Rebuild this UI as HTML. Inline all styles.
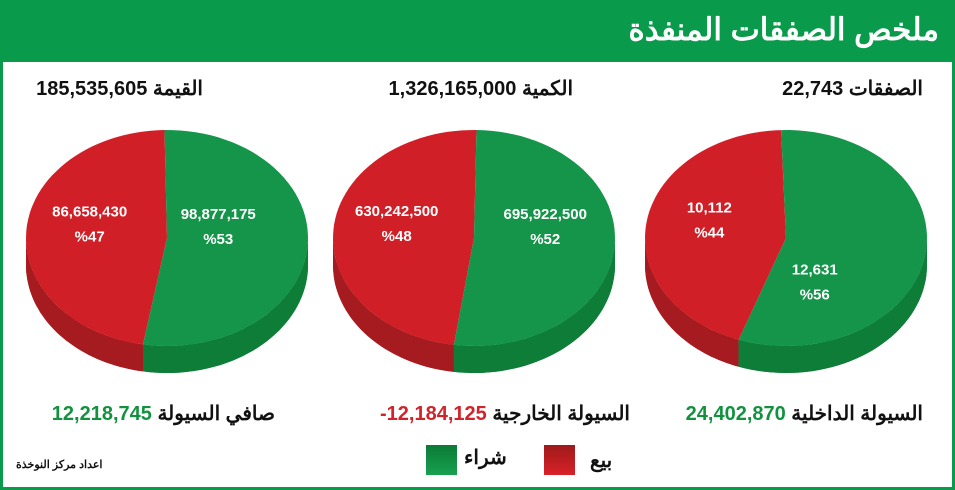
<!DOCTYPE html>
<html><head><meta charset="utf-8">
<style>
body{margin:0;width:955px;height:490px;overflow:hidden;background:#fff;font-family:"Liberation Sans","Noto Sans CJK SC",sans-serif;}
#frame{position:absolute;left:0;top:0;width:949px;height:484px;border:3px solid #0a9a4c;}
#header{position:absolute;left:3px;top:3px;width:949px;height:59px;background:#0a9a4c;}
.t{position:absolute;font-weight:bold;white-space:nowrap;direction:rtl;}
.g{color:#12923f}.r{color:#d2232a}
</style></head><body>
<div id="frame"></div>
<div id="header"></div>
<div class="t" style="right:16px;top:12px;font-size:31px;color:#fff;">ملخص الصفقات المنفذة</div>
<div class="t" style="right:32px;top:76px;font-size:20px;color:#111;">الصفقات <span dir="ltr">22,743</span></div>
<div class="t" style="right:382px;top:76px;font-size:20px;color:#111;">الكمية <span dir="ltr">1,326,165,000</span></div>
<div class="t" style="right:752px;top:76px;font-size:20px;color:#111;">القيمة <span dir="ltr">185,535,605</span></div>
<svg id="pies" width="955" height="490" style="position:absolute;left:0;top:0"></svg>
<div class="t" style="right:32px;top:401px;font-size:20px;color:#111;">السيولة الداخلية <span class="g" dir="ltr">24,402,870</span></div>
<div class="t" style="right:325px;top:401px;font-size:20px;color:#111;">السيولة الخارجية <span class="r" dir="ltr">12,184,125</span><span class="r">-</span></div>
<div class="t" style="right:680px;top:401px;font-size:20px;color:#111;">صافي السيولة <span class="g" dir="ltr">12,218,745</span></div>
<div class="t" style="left:590px;top:448px;font-size:20px;color:#111;">بيع</div>
<div style="position:absolute;left:544px;top:445px;width:31px;height:30px;background:linear-gradient(#9e1a1a,#d92128);"></div>
<div class="t" style="left:464px;top:445px;font-size:20px;color:#111;">شراء</div>
<div style="position:absolute;left:426px;top:445px;width:31px;height:30px;background:linear-gradient(#0b7a35,#17a150);"></div>
<div class="t" style="left:16px;top:458px;font-size:11px;color:#111;">اعداد مركز النوخذة</div>
<script>
const pieCenters=[786,474,167];
const sellValues=["10,112","630,242,500","86,658,430"];
const buyValues=["12,631","695,922,500","98,877,175"];
const sellShares=[44,48,47];
const buyShares=[56,52,53];
const startAngles=[-92,-89,-91];
const buyLabelShiftX=[-27,15,-5];
const buyLabelShiftY=[55,0,0];
const svg=document.getElementById('pies');
const NS='http://www.w3.org/2000/svg';
const cy=238,rx=141,ry=108,depth=27;
function pt(cx,a,dy){const r=a*Math.PI/180;return [(cx+rx*Math.cos(r)).toFixed(1),(cy+dy+ry*Math.sin(r)).toFixed(1)];}
function add(tag,attrs){const e=document.createElementNS(NS,tag);for(const k in attrs)e.setAttribute(k,attrs[k]);svg.appendChild(e);return e;}
function norm(a){a%=360;if(a<0)a+=360;return a;}
function sideSeg(cx,a1,a2,color,name){
 for(let base=-360;base<=360;base+=360){
  const s=Math.max(a1,base),e=Math.min(a2,base+180);
  if(e<=s)continue;
  let top=[],bot=[];
  for(let a=s;a<=e+0.001;a+=(e-s)/40){top.push(pt(cx,a,0).join(','));bot.unshift(pt(cx,a,depth).join(','));}
  const p=add('polygon',{points:top.concat(bot).join(' '),fill:color});
  
  
 }
}
function wedge(cx,a1,a2,color,name){
 let d='M'+cx+','+cy+' L'+pt(cx,a1,0).join(',');
 for(let a=a1;a<=a2+0.001;a+=(a2-a1)/60)d+=' L'+pt(cx,a,0).join(',');
 d+=' Z';
 const p=add('path',{d:d,fill:color});
 
 
}
function label(x,y,txt,name){
 const t=add('text',{x:x,y:y,'text-anchor':'middle','font-size':'15','font-weight':'bold',fill:'#fff','font-family':'Liberation Sans, sans-serif'});
 t.textContent=txt;
 
 
}
for(let i=0;i<pieCenters.length;i++){
 const cx=pieCenters[i];
 const tot=sellShares[i]+buyShares[i];
 const s0=startAngles[i];
 const sellEnd=s0; const sellStart=s0-sellShares[i]/tot*360;
 const buyStart=s0; const buyEnd=sellStart+360;
 const rs=norm(sellStart), re=rs+sellShares[i]/tot*360;
 sideSeg(cx,rs,re,'#a51b1f','pie'+i+'-sell-side');
 sideSeg(cx,rs-360,re-360,'#a51b1f','pie'+i+'-sell-side');
 const gs=norm(buyStart), ge=gs+buyShares[i]/tot*360;
 sideSeg(cx,gs,ge,'#0d7d37','pie'+i+'-buy-side');
 sideSeg(cx,gs-360,ge-360,'#0d7d37','pie'+i+'-buy-side');
 wedge(cx,sellStart,sellEnd,'#d11f27','pie'+i+'-sell-slice');
 wedge(cx,buyStart,buyEnd,'#14954a','pie'+i+'-buy-slice');
 const sm=(sellStart+sellEnd)/2*Math.PI/180, bm=(buyStart+buyEnd)/2*Math.PI/180;
 const sx=cx+rx*0.55*Math.cos(sm), sy=cy+ry*0.45*Math.sin(sm)-18;
 const bx=cx+rx*0.4*Math.cos(bm)+buyLabelShiftX[i], by=cy+ry*0.1*Math.sin(bm)-20+buyLabelShiftY[i];
 label(sx,sy,sellValues[i],'pie'+i+'-sell-value');
 label(sx,sy+25,'%'+sellShares[i],'pie'+i+'-sell-pct');
 label(bx,by,buyValues[i],'pie'+i+'-buy-value');
 label(bx,by+25,'%'+buyShares[i],'pie'+i+'-buy-pct');
}
</script>
</body></html>
